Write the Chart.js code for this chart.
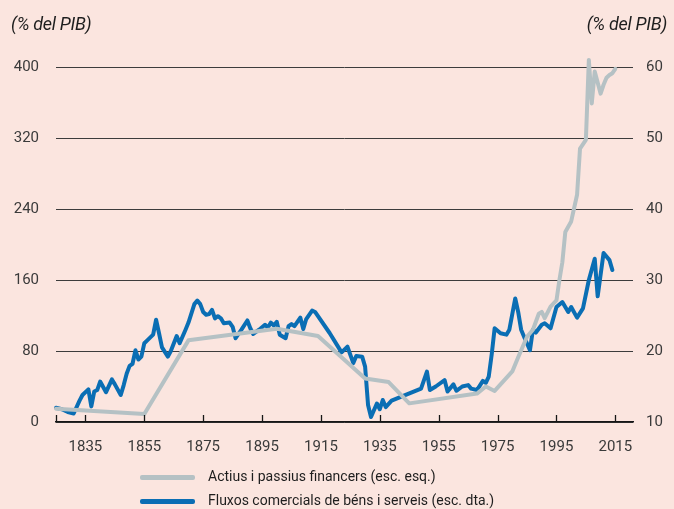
<!DOCTYPE html>
<html>
<head>
<meta charset="utf-8">
<script src="https://cdn.jsdelivr.net/npm/chart.js@4/dist/chart.umd.min.js"></script>
<style>
  html, body { margin: 0; padding: 0; background: #fbe5df; }
  #wrap { position: relative; width: 674px; height: 509px; background: #fbe5df; overflow: hidden; font-family: Roboto, "Liberation Sans", sans-serif; }
  canvas { position: absolute; left: 0; top: 0; }
  .unit { position: absolute; top: 13px; font-style: italic; font-size: 18px; color: #1e1e1e; letter-spacing: -0.3px; }
  .leg { position: absolute; left: 140px; height: 20px; font-size: 14px; color: #1e1e1e; }
  .leg .ln { position: absolute; left: 0; top: 8px; width: 55px; height: 5px; border-radius: 2px; }
  .leg .tx { position: absolute; left: 68px; top: 1px; white-space: nowrap; }
</style>
</head>
<body>
<div id="wrap">
  <canvas id="c" width="674" height="509"></canvas>
  <div class="unit" style="left:11px;">(% del PIB)</div>
  <div class="unit" style="right:7px;">(% del PIB)</div>
  <div class="leg" style="top:467px;"><div class="ln" style="background:#b5c1c4;"></div><div class="tx">Actius i passius financers (esc. esq.)</div></div>
  <div class="leg" style="top:491px;"><div class="ln" style="background:#0a6eb4;"></div><div class="tx">Fluxos comercials de béns i serveis (esc. dta.)</div></div>
</div>
<script>
// Series labels
const seriesNames = ["Actius i passius financers (esc. esq.)", "Fluxos comercials de béns i serveis (esc. dta.)"];

// Financial assets and liabilities (% GDP, left scale)
const finYears = [1825, 1855, 1870, 1900, 1914, 1930, 1938, 1945, 1968, 1971, 1974, 1980, 1982, 1985, 1987, 1989, 1990, 1991, 1993, 1995, 1996, 1997, 1998, 2000, 2002, 2003, 2005, 2006, 2007, 2008, 2010, 2011, 2012, 2013, 2014, 2015];
const finValues = [15, 9, 92, 105, 97, 49, 45, 21, 32, 40, 35, 57, 73, 96, 104, 122, 124, 117, 130, 137, 160, 180, 214, 226, 256, 308, 318, 408, 359, 395, 370, 380, 388, 391, 393, 398];

// Trade flows of goods and services (% GDP, right scale)
const tradeYears = [1825, 1827, 1829, 1831, 1833, 1834, 1836, 1837, 1838, 1839, 1840, 1842, 1844, 1845, 1847, 1848, 1849, 1850, 1851, 1852, 1853, 1854, 1855, 1856, 1858, 1859, 1860, 1861, 1863, 1864, 1866, 1867, 1869, 1870, 1872, 1873, 1874, 1875, 1876, 1877, 1878, 1879, 1880, 1881, 1882, 1884, 1885, 1886, 1888, 1890, 1891, 1892, 1894, 1896, 1897, 1898, 1899, 1900, 1901, 1903, 1904, 1905, 1906, 1908, 1909, 1910, 1912, 1913, 1918, 1922, 1924, 1926, 1927, 1929, 1930, 1931, 1932, 1934, 1935, 1936, 1937, 1939, 1949, 1951, 1952, 1954, 1957, 1958, 1960, 1961, 1963, 1965, 1966, 1968, 1970, 1971, 1972, 1973, 1974, 1976, 1978, 1979, 1981, 1982, 1983, 1984, 1986, 1987, 1988, 1990, 1991, 1993, 1995, 1997, 1999, 2000, 2002, 2004, 2006, 2008, 2009, 2011, 2013, 2014];
const tradeValues = [12.0, 11.8, 11.4, 11.2, 13.0, 13.8, 14.6, 12.2, 14.3, 14.5, 15.7, 14.2, 16.0, 15.3, 13.8, 15.2, 16.8, 17.9, 18.2, 20.1, 18.8, 19.2, 21.1, 21.5, 22.3, 24.4, 22.5, 20.5, 19.2, 20.0, 22.1, 21.1, 23.0, 24.0, 26.6, 27.1, 26.6, 25.5, 25.1, 25.2, 25.8, 24.6, 24.9, 24.6, 23.9, 24.0, 23.4, 21.8, 23.0, 24.3, 23.2, 22.4, 23.0, 23.7, 23.3, 24.0, 23.6, 24.1, 22.3, 21.8, 23.5, 23.8, 23.5, 24.7, 23.1, 24.5, 25.7, 25.5, 22.5, 19.8, 20.6, 18.3, 19.3, 19.2, 17.8, 12.4, 10.7, 12.6, 11.8, 13.1, 12.1, 13.0, 14.7, 17.1, 14.5, 15.0, 15.9, 14.3, 15.3, 14.4, 15.0, 15.2, 14.7, 14.5, 15.8, 15.5, 16.4, 19.5, 23.2, 22.5, 22.3, 23.0, 27.4, 25.5, 23.0, 22.0, 20.1, 23.0, 22.6, 23.7, 23.9, 23.2, 26.2, 26.9, 25.5, 26.2, 24.7, 26.0, 30.0, 33.0, 27.7, 33.8, 32.8, 31.4];

// Axis ticks
const xTicks = [1835, 1855, 1875, 1895, 1915, 1935, 1955, 1975, 1995, 2015];
const leftTicks = [0, 80, 160, 240, 320, 400];
const rightTicks = [10, 20, 30, 40, 50, 60];

const toXY = (xs, ys) => xs.map((x, i) => ({ x: x, y: ys[i] }));

const innerTicks = {
  id: 'innerTicks',
  afterDatasetsDraw(chart) {
    const xs = chart.scales.x;
    const ctx = chart.ctx;
    const b = chart.chartArea.bottom;
    ctx.save();
    ctx.strokeStyle = '#161616';
    ctx.lineWidth = 1.3;
    const vals = [xs.min].concat(xTicks);
    vals.forEach(v => {
      const px = Math.round(xs.getPixelForValue(v)) + 0.5;
      ctx.beginPath();
      ctx.moveTo(px, b);
      ctx.lineTo(px, b - 7);
      ctx.stroke();
    });
    ctx.restore();
  }
};

const tickFont = { family: 'Roboto, "Liberation Sans", sans-serif', size: 15 };

new Chart(document.getElementById('c'), {
  type: 'line',
  data: {
    datasets: [
      {
        label: seriesNames[0],
        data: toXY(finYears, finValues),
        yAxisID: 'yL',
        borderColor: '#b5c1c4',
        borderWidth: 4,
        pointRadius: 0,
        tension: 0,
        clip: false,
        borderJoinStyle: 'round',
        borderCapStyle: 'round'
      },
      {
        label: seriesNames[1],
        data: toXY(tradeYears, tradeValues),
        yAxisID: 'yR',
        borderColor: '#0a6eb4',
        borderWidth: 4,
        pointRadius: 0,
        tension: 0,
        clip: false,
        borderJoinStyle: 'round',
        borderCapStyle: 'round'
      }
    ]
  },
  options: {
    responsive: false,
    animation: false,
    devicePixelRatio: 1,
    layout: { padding: { top: 67, left: 0, right: 0, bottom: 0 } },
    plugins: { legend: { display: false }, tooltip: { enabled: false } },
    scales: {
      x: {
        type: 'linear',
        min: 1825,
        max: 2021,
        afterBuildTicks: s => { s.ticks = xTicks.map(v => ({ value: v })); },
        afterFit: s => { s.height = 87; },
        ticks: { font: tickFont, color: '#3a3a3a', padding: 16, maxRotation: 0, autoSkip: false, callback: v => String(v) },
        grid: { display: false, drawTicks: false },
        border: { display: true, color: '#161616', width: 1.6 }
      },
      yL: {
        position: 'left',
        min: 0,
        max: 400,
        afterBuildTicks: s => { s.ticks = leftTicks.map(v => ({ value: v })); },
        afterFit: s => { s.width = 56; },
        ticks: { font: tickFont, color: '#3a3a3a', padding: 17 },
        grid: { color: '#3c3c3c', lineWidth: 1, drawTicks: false },
        border: { display: false }
      },
      yR: {
        position: 'right',
        min: 10,
        max: 60,
        afterBuildTicks: s => { s.ticks = rightTicks.map(v => ({ value: v })); },
        afterFit: s => { s.width = 41; },
        ticks: { font: tickFont, color: '#3a3a3a', padding: 13 },
        grid: { display: false, drawTicks: false },
        border: { display: false }
      }
    }
  },
  plugins: [innerTicks]
});
</script>
</body>
</html>
